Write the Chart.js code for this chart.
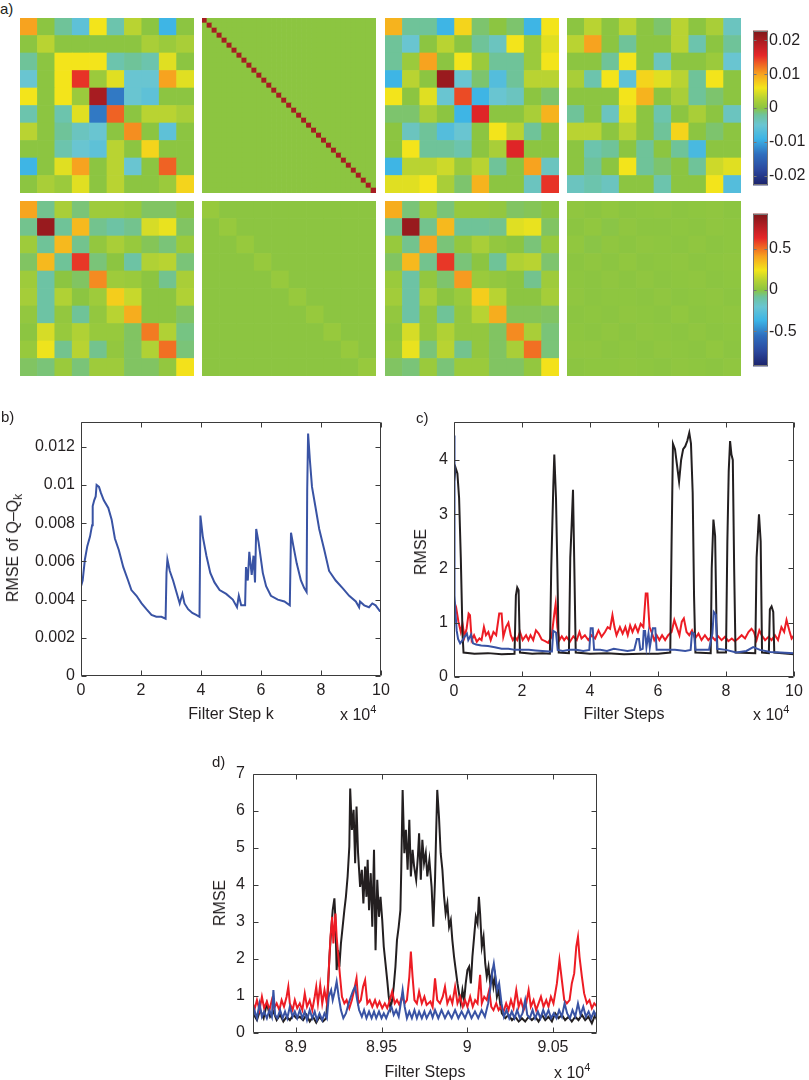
<!DOCTYPE html>
<html>
<head>
<meta charset="utf-8">
<script src="https://cdn.jsdelivr.net/npm/chart.js@4.4.1/dist/chart.umd.min.js"></script>
<style>
body { margin: 0; width: 809px; height: 1080px; position: relative; background: #fff; overflow: hidden;
       font-family: "Liberation Sans", Arial, Helvetica, sans-serif; color: #231f20; }
canvas { position: absolute; }
.t { position: absolute; font-size: 16px; line-height: 1; white-space: nowrap; }
.c { transform: translate(-50%, -50%); }
.r { transform: translate(-50%, -50%) rotate(-90deg); }
.m { transform: translateY(-50%); }
.p { font-size: 15px; }
sup { font-size: 11px; vertical-align: 7px; line-height: 0; }
sub { font-size: 12px; vertical-align: -4px; line-height: 0; }
</style>
</head>
<body>
<canvas id="h1" width="174" height="175" style="left:20px;top:18px"></canvas>
<canvas id="h2" width="174" height="175" style="left:202px;top:18px"></canvas>
<canvas id="h3" width="174" height="175" style="left:385px;top:18px"></canvas>
<canvas id="h4" width="174" height="175" style="left:567px;top:18px"></canvas>
<canvas id="h5" width="174" height="175" style="left:20px;top:201px"></canvas>
<canvas id="h6" width="174" height="175" style="left:202px;top:201px"></canvas>
<canvas id="h7" width="174" height="175" style="left:385px;top:201px"></canvas>
<canvas id="h8" width="174" height="175" style="left:567px;top:201px"></canvas>
<canvas id="cb1" width="56" height="176" style="left:753px;top:20px"></canvas>
<canvas id="cb2" width="56" height="174" style="left:753px;top:203px"></canvas>
<canvas id="plotB" width="400" height="330" style="left:0px;top:400px"></canvas>
<canvas id="plotC" width="409" height="330" style="left:400px;top:400px"></canvas>
<canvas id="plotD" width="420" height="330" style="left:200px;top:750px"></canvas>

<div class="t p" style="left:0px;top:1px">a)</div>
<div class="t p" style="left:1px;top:409px">b)</div>
<div class="t p" style="left:416px;top:410px">c)</div>
<div class="t p" style="left:212px;top:754px">d)</div>

<div class="t r" style="left:13px;top:548px">RMSE of Q&ndash;Q<sub>k</sub></div>
<div class="t c" style="left:231px;top:714px">Filter Step k</div>
<div class="t m" style="left:340px;top:715px">x 10<sup>4</sup></div>

<div class="t r" style="left:421px;top:552px">RMSE</div>
<div class="t c" style="left:624px;top:714px">Filter Steps</div>
<div class="t m" style="left:753px;top:715px">x 10<sup>4</sup></div>

<div class="t r" style="left:220px;top:903px">RMSE</div>
<div class="t c" style="left:425px;top:1072px">Filter Steps</div>
<div class="t m" style="left:554px;top:1073px">x 10<sup>4</sup></div>

<script>
// ---- a) matrices, top row in units of 1e-3 ----
const qEst1 = [
  [10, 0, -2, -6, 6, -3, 3, 0, -9, 0],
  [0, 3, 0, 0, 0, 0, 0, 2, 1, 2],
  [-2, 0, 6, 6, 6, -3, -2, -3, 5, 0],
  [-5, 0, 6, 15, 1, 5, -5, -5, 10, 5],
  [6, 0, 6, 1, 20, -13, -5, -6, 0, 0],
  [-3, 0, -3, 5, -13, 13, 0, 3, 3, 2],
  [3, 0, -2, -4, -5, 0, 11, 0, -6, 0],
  [0, 0, -3, -5, -6, 3, 0, 7, 0, 0],
  [-9, 0, 5, 10, 0, 3, -5, 0, 13, 0],
  [0, 2, 1, 5, 0, 3, 0, 0, 1, 7]
];
const qTrueSize = 35;
const qTrueDiag = 20;
const qEst2 = [
  [9, -2, -2, -9, 7, -1, 0, -1, -9, 6],
  [-2, -5, 0, 3, 0, -2, -4, 6, 1, 5],
  [-2, 1, 10, 0, 6, 1, -2, -2, 1, 6],
  [-9, 3, 0, 21, -5, -1, -7, -2, 3, 3],
  [6, 0, 5, -5, 14, -9, -5, -4, 0, -1],
  [-1, -1, 2, 0, -9, 16, 0, 0, 2, 9],
  [0, -4, -2, -7, -5, 0, 6, 3, -2, 0],
  [0, 6, -2, -2, -3, 0, 2, 16, 0, 0],
  [-9, 3, 3, 4, 1, 3, -2, 0, 10, -4],
  [5, 5, 6, 2, -1, 9, 0, 0, -4, 15]
];
const qDiff = [
  [0, 3, 0, 3, 0, -1, 3, 0, 2, -4],
  [3, 10, 0, -2, 0, 0, 3, -3, 0, -2],
  [0, 0, -2, 6, 0, -4, 0, 0, 1, -5],
  [2, -3, 6, -6, 7, 5, 3, -2, 6, 0],
  [0, 0, 0, 6, 9, 0, 2, -2, -1, 0],
  [-2, 0, -4, 5, 0, -3, 0, 2, 0, -4],
  [3, 3, 0, 3, 0, -2, 7, 0, -1, 0],
  [0, -3, -2, 0, -2, 0, -2, -8, 0, 0],
  [0, -2, 0, 6, -2, -1, 0, -2, 4, 5],
  [-4, -3, -4, 0, 0, -3, 0, 0, 6, -7]
];
// ---- a) bottom row ----
const corrEst1 = [
  [0.4, -0.07, 0.08, -0.05, 0.05, 0.05, 0.03, -0.03, -0.03, 0],
  [-0.07, 0.85, -0.08, 0.35, -0.07, -0.1, -0.07, 0.18, 0.22, -0.03],
  [0.05, -0.08, 0.35, -0.07, 0.02, 0.08, 0.03, -0.02, -0.05, 0.04],
  [-0.03, 0.35, -0.08, 0.6, -0.05, 0, -0.1, 0.1, 0.12, -0.05],
  [0.05, -0.1, 0, -0.03, 0.45, 0.05, 0.04, 0, -0.07, 0.08],
  [0.07, -0.1, 0.1, 0, 0.05, 0.3, 0.15, 0, 0, 0.1],
  [0.02, -0.1, 0.02, -0.08, 0.02, 0.12, 0.38, 0, 0, -0.03],
  [0, 0.18, 0.03, 0.1, 0.03, 0.03, -0.03, 0.48, 0.1, -0.06],
  [0.03, 0.23, -0.07, 0.12, -0.07, 0.02, -0.03, 0.1, 0.5, -0.05],
  [-0.03, -0.05, 0.04, -0.05, 0.05, 0.05, -0.03, -0.03, 0.02, 0.25]
];
const corrTrueSize = 10;
const corrTrueDiag = 0.03;
const corrEst2 = [
  [0.38, -0.05, 0.05, -0.05, 0.03, 0.03, 0.02, -0.03, -0.02, 0],
  [-0.07, 0.85, -0.07, 0.35, -0.08, -0.08, -0.07, 0.2, 0.22, -0.03],
  [0.03, -0.07, 0.4, -0.05, 0.02, 0.08, 0.02, 0, -0.05, 0.03],
  [-0.03, 0.35, -0.07, 0.6, -0.05, 0, -0.08, 0.1, 0.12, -0.04],
  [0.04, -0.1, 0.02, -0.04, 0.42, 0.04, 0.02, 0, -0.07, 0.05],
  [0.06, -0.1, 0.08, 0, 0.04, 0.3, 0.12, 0, 0, 0.07],
  [0.02, -0.1, 0.02, -0.08, 0.02, 0.12, 0.38, -0.02, -0.02, -0.03],
  [0, 0.18, 0.02, 0.1, 0.02, 0.02, -0.03, 0.45, 0.08, -0.05],
  [0.02, 0.22, -0.05, 0.12, -0.07, 0.02, -0.03, 0.08, 0.5, -0.05],
  [-0.03, -0.05, 0.04, -0.05, 0.04, 0.04, -0.03, -0.03, 0.02, 0.25]
];
const corrDiff = [
  [0.01, 0, 0.015, 0, 0.005, 0.01, 0, 0.005, 0.01, 0],
  [0, 0.015, -0.005, 0.01, 0, 0, 0.005, 0, 0.01, 0.005],
  [0.015, -0.005, 0.01, 0, 0.01, 0.005, 0, 0.01, 0, 0.005],
  [0, 0.01, 0, 0.015, 0, 0.005, 0.01, 0, 0.005, 0.01],
  [0.005, 0, 0.01, 0, 0.01, 0, 0.005, 0.01, 0, 0.005],
  [0.01, 0, 0.005, 0.005, 0, 0.01, 0, 0.005, 0.01, 0],
  [0, 0.005, 0, 0.01, 0.005, 0, 0.015, 0, 0.005, 0.01],
  [0.005, 0, 0.01, 0, 0.01, 0.005, 0, 0.01, 0, 0.005],
  [0.01, 0.01, 0, 0.005, 0, 0.01, 0.005, 0, 0.015, 0],
  [0, 0.005, 0.005, 0.01, 0.005, 0, 0.01, 0.005, 0, 0.01]
];
const topLimit = 22.9;      // colour range, 1e-3
const bottomLimit = 0.925;
const topBarTicks = [-20, -10, 0, 10, 20];
const bottomBarTicks = [-0.5, 0, 0.5];

// ---- b) RMSE of Q-Qk, x in units of 1e4 ----
const rmseQ = [[0,0.0047],[0.055,0.0050],[0.13,0.0061],[0.21,0.0068],[0.3,0.0073],[0.37,0.0079],[0.39,0.0089],
  [0.44,0.0092],[0.49,0.0094],[0.52,0.0100],[0.6,0.0099],[0.66,0.0096],[0.76,0.0092],[0.91,0.0088],[1.02,0.0082],
  [1.13,0.0072],[1.26,0.0066],[1.41,0.0057],[1.57,0.0050],[1.68,0.0045],[1.85,0.0042],[2.02,0.0038],[2.18,0.0035],
  [2.35,0.0032],[2.51,0.0031],[2.68,0.0031],[2.82,0.0030],[2.85,0.0054],[2.88,0.0061],[2.96,0.0055],[3.07,0.0050],
  [3.18,0.0044],[3.29,0.0038],[3.38,0.0043],[3.45,0.0038],[3.57,0.0035],[3.71,0.0033],[3.84,0.0032],[3.95,0.0031],
  [3.98,0.0084],[4.06,0.0073],[4.18,0.0063],[4.31,0.0054],[4.45,0.0049],[4.62,0.0045],[4.84,0.0043],[5.06,0.0040],
  [5.2,0.0036],[5.26,0.0042],[5.34,0.0037],[5.47,0.0037],[5.5,0.0057],[5.56,0.0050],[5.61,0.0065],[5.69,0.0053],
  [5.75,0.0063],[5.8,0.0049],[5.84,0.0077],[5.92,0.0070],[6.06,0.0054],[6.17,0.0047],[6.33,0.0042],[6.56,0.0040],
  [6.78,0.0039],[6.96,0.0037],[7.0,0.0075],[7.08,0.0068],[7.19,0.0059],[7.33,0.0050],[7.44,0.0046],[7.52,0.0044],
  [7.54,0.0097],[7.57,0.0127],[7.63,0.0113],[7.7,0.0099],[7.81,0.0089],[7.94,0.0077],[8.11,0.0066],[8.27,0.0055],
  [8.49,0.0050],[8.72,0.0046],[8.94,0.0042],[9.16,0.0039],[9.27,0.0036],[9.3,0.0039],[9.44,0.0037],[9.6,0.0036],
  [9.71,0.0038],[9.82,0.0037],[9.96,0.0034],[10,0.0034]];
const bXTicks = [0, 2, 4, 6, 8, 10];
const bYTicks = [0, 0.002, 0.004, 0.006, 0.008, 0.01, 0.012];
const bYMax = 0.0133;

// ---- c) RMSE over all filter steps, x in units of 1e4 ----
const cBlack = [[0,3.6],[0.05,3.85],[0.1,3.75],[0.15,3.3],[0.2,2.2],[0.25,0.8],[0.28,0.45],[0.6,0.43],[1.0,0.44],
  [1.4,0.42],[1.78,0.43],[1.82,1.5],[1.86,1.65],[1.9,1.6],[1.94,0.45],[2.3,0.43],[2.6,0.44],[2.82,0.43],[2.86,2.0],
  [2.92,3.5],[2.95,4.1],[3.0,3.3],[3.04,2.0],[3.08,0.45],[3.38,0.44],[3.42,2.2],[3.46,2.8],[3.5,3.45],[3.54,2.0],
  [3.58,0.45],[4.0,0.43],[4.5,0.44],[5.0,0.42],[5.5,0.43],[6.0,0.43],[6.36,0.45],[6.4,2.5],[6.44,4.3],[6.5,4.2],
  [6.56,3.9],[6.62,3.6],[6.68,4.0],[6.74,4.2],[6.8,4.25],[6.86,4.35],[6.92,4.5],[6.97,4.3],[7.02,3.4],[7.06,1.5],
  [7.1,0.45],[7.55,0.44],[7.58,2.0],[7.63,2.9],[7.68,2.6],[7.72,1.0],[7.75,0.45],[8.0,0.45],[8.04,2.5],[8.08,3.8],
  [8.12,4.35],[8.16,4.1],[8.2,4.0],[8.24,2.0],[8.28,0.45],[8.86,0.44],[8.9,2.2],[8.97,3.0],[9.02,2.5],[9.06,0.45],
  [9.26,0.44],[9.29,1.25],[9.34,1.3],[9.39,1.2],[9.42,0.45],[10,0.42]];
const cRed = [[0,1.4],[0.06,1.29],[0.13,1.02],[0.2,0.83],[0.25,0.98],[0.31,0.74],[0.37,0.89],[0.43,1.17],[0.47,1.14],
  [0.52,0.68],[0.59,0.77],[0.67,0.65],[0.75,0.71],[0.81,0.68],[0.88,0.92],[0.94,0.77],[1.01,0.83],[1.08,0.68],
  [1.16,0.83],[1.24,0.77],[1.33,1.17],[1.4,1.17],[1.45,0.74],[1.53,0.92],[1.6,1.0],[1.67,0.77],[1.73,0.68],
  [1.79,0.74],[1.86,0.68],[1.94,0.83],[2.02,0.68],[2.12,0.77],[2.19,0.68],[2.25,0.77],[2.33,0.68],[2.41,0.86],
  [2.49,0.8],[2.58,0.69],[2.68,0.66],[2.77,0.63],[2.87,0.74],[2.95,1.17],[2.99,1.35],[3.04,0.92],[3.1,0.68],
  [3.17,0.75],[3.24,0.68],[3.31,0.74],[3.41,0.65],[3.51,0.75],[3.61,0.68],[3.69,0.83],[3.75,0.71],[3.85,0.77],
  [3.95,0.68],[4.05,0.77],[4.15,0.71],[4.25,0.86],[4.34,0.74],[4.44,0.83],[4.52,0.92],[4.59,0.89],[4.66,1.14],
  [4.72,0.92],[4.78,0.77],[4.88,0.92],[4.96,0.8],[5.04,0.92],[5.11,0.77],[5.18,0.95],[5.25,0.83],[5.33,0.95],
  [5.41,0.83],[5.49,0.98],[5.57,0.92],[5.64,1.54],[5.69,1.54],[5.75,0.92],[5.81,0.83],[5.89,0.68],[5.96,0.77],
  [6.04,0.68],[6.12,0.77],[6.21,0.68],[6.3,0.77],[6.4,0.83],[6.48,1.05],[6.55,0.92],[6.63,0.77],[6.7,1.02],
  [6.76,1.08],[6.84,0.83],[6.92,0.77],[7.0,0.86],[7.09,0.71],[7.19,0.8],[7.28,0.68],[7.38,0.77],[7.48,0.68],
  [7.58,0.75],[7.68,0.68],[7.77,0.75],[7.87,0.68],[7.97,0.74],[8.07,0.66],[8.17,0.71],[8.26,0.66],[8.36,0.71],
  [8.46,0.77],[8.56,0.71],[8.66,0.83],[8.75,0.89],[8.82,0.83],[8.9,0.68],[8.98,0.86],[9.05,0.77],[9.15,0.68],
  [9.25,0.74],[9.34,0.68],[9.44,0.77],[9.53,0.68],[9.63,0.92],[9.71,0.83],[9.78,1.05],[9.86,0.86],[9.93,0.71],
  [10,0.77]];
const cBlue = [[0,4.45],[0.01,2.5],[0.02,1.5],[0.04,1.2],[0.08,0.85],[0.12,0.7],[0.18,0.62],[0.25,0.68],[0.32,0.75],
  [0.38,0.8],[0.42,0.68],[0.5,0.78],[0.56,0.62],[0.65,0.6],[0.8,0.58],[1.0,0.57],[1.2,0.55],[1.4,0.52],[1.6,0.52],
  [1.8,0.5],[2.0,0.5],[2.2,0.5],[2.4,0.49],[2.6,0.48],[2.8,0.47],[2.88,0.47],[2.92,0.85],[3.0,0.82],[3.05,0.5],
  [3.2,0.48],[3.4,0.5],[3.6,0.5],[3.8,0.48],[3.98,0.5],[4.02,0.9],[4.08,0.9],[4.12,0.5],[4.3,0.5],[4.5,0.48],
  [4.7,0.52],[4.9,0.5],[5.1,0.48],[5.3,0.5],[5.38,0.7],[5.44,0.7],[5.48,0.5],[5.55,0.52],[5.58,0.85],[5.62,0.85],
  [5.66,0.55],[5.72,0.8],[5.76,0.55],[5.85,0.9],[5.92,0.9],[5.96,0.5],[6.2,0.5],[6.5,0.5],[6.8,0.48],[6.96,0.5],
  [7.0,0.82],[7.06,0.8],[7.1,0.5],[7.3,0.5],[7.5,0.5],[7.6,0.8],[7.64,1.2],[7.7,1.15],[7.74,0.52],[8.0,0.5],
  [8.3,0.45],[8.6,0.48],[8.8,0.55],[9.0,0.5],[9.3,0.46],[9.6,0.45],[10,0.44]];
const cXTicks = [0, 2, 4, 6, 8, 10];
const cYTicks = [0, 1, 2, 3, 4];
const cYMax = 4.7;

// ---- d) zoom on steps 8.875e4 .. 9.076e4 ----
const dBlack = [[8.875,0.53],[8.8773,0.35],[8.8792,0.62],[8.8812,0.4],[8.8831,0.8],[8.885,0.44],[8.8869,0.58],
  [8.8888,0.35],[8.8908,0.49],[8.8927,0.31],[8.8946,0.44],[8.8965,0.35],[8.8985,0.49],[8.9004,0.4],[8.9023,0.44],
  [8.9042,0.35],[8.9062,0.49],[8.9081,0.31],[8.91,0.44],[8.9119,0.28],[8.9138,0.44],[8.9158,0.31],[8.9177,0.4],
  [8.9187,1.16],[8.9196,2.06],[8.9206,2.78],[8.9215,3.32],[8.9225,3.64],[8.9231,3.05],[8.9238,1.7],[8.9246,2.24],
  [8.9254,1.79],[8.9263,2.42],[8.9273,2.87],[8.9283,3.32],[8.9292,3.68],[8.9302,4.23],[8.9312,5.04],[8.9317,6.61],
  [8.9327,5.49],[8.9337,6.03],[8.9346,4.59],[8.9354,6.12],[8.9363,4.86],[8.9375,3.95],[8.9385,4.41],[8.9394,3.5],
  [8.9404,4.5],[8.9412,3.68],[8.9419,4.68],[8.9427,3.32],[8.9437,4.32],[8.9446,2.87],[8.9456,4.95],[8.9465,2.24],
  [8.9475,4.14],[8.9485,3.14],[8.9494,3.68],[8.9504,3.05],[8.9513,2.33],[8.9523,1.88],[8.9533,1.43],[8.9542,0.98],
  [8.9552,0.67],[8.9562,0.89],[8.9571,1.25],[8.9581,1.79],[8.959,2.51],[8.96,2.87],[8.961,3.32],[8.9615,4.41],
  [8.9623,6.57],[8.9633,4.86],[8.9642,5.49],[8.9652,4.41],[8.9662,5.76],[8.9671,4.23],[8.9681,4.95],[8.969,4.5],
  [8.9702,4.14],[8.9712,4.77],[8.9719,5.4],[8.9729,4.14],[8.9738,5.22],[8.9748,4.59],[8.9758,4.86],[8.9767,4.23],
  [8.9779,4.68],[8.9792,3.95],[8.9802,2.87],[8.9812,4.14],[8.9818,5.31],[8.9825,6.57],[8.9835,5.85],[8.9845,4.86],
  [8.9855,4.41],[8.9865,3.68],[8.9874,3.23],[8.9884,3.5],[8.9894,2.87],[8.9904,3.05],[8.9913,2.51],[8.9923,2.06],
  [8.9933,1.7],[8.9943,1.34],[8.9952,1.07],[8.9962,0.8],[8.9972,1.16],[8.9982,0.89],[8.9991,1.34],[9.0001,1.7],
  [9.0011,1.79],[9.0021,1.34],[9.003,2.06],[9.004,2.6],[9.005,3.14],[9.006,2.96],[9.0068,3.68],[9.0075,3.23],
  [9.0085,2.33],[9.0095,2.6],[9.0105,1.88],[9.0114,1.52],[9.0124,1.79],[9.0134,1.34],[9.0144,1.61],[9.0153,1.25],
  [9.0163,1.52],[9.0173,0.98],[9.0183,1.16],[9.0192,0.8],[9.0202,0.53],[9.0222,0.4],[9.0241,0.49],[9.0261,0.35],
  [9.028,0.44],[9.03,0.31],[9.0319,0.4],[9.0338,0.31],[9.0358,0.44],[9.0377,0.35],[9.0397,0.44],[9.0416,0.31],
  [9.0436,0.49],[9.0455,0.35],[9.0474,0.44],[9.0494,0.31],[9.0513,0.53],[9.0533,0.4],[9.0552,0.49],[9.0571,0.35],
  [9.0591,0.44],[9.061,0.31],[9.063,0.44],[9.0649,0.35],[9.0669,0.49],[9.0688,0.35],[9.0707,0.44],[9.0727,0.26],
  [9.0746,0.49],[9.0757,0.35]];
const dRed = [[8.875,0.8],[8.8758,0.62],[8.8773,0.89],[8.8788,0.62],[8.8802,0.98],[8.8815,0.67],[8.8831,0.85],
  [8.8846,0.62],[8.886,0.89],[8.8873,0.67],[8.8888,0.8],[8.8904,0.62],[8.8917,0.89],[8.8931,0.71],[8.8946,0.98],
  [8.8956,1.25],[8.8965,0.8],[8.8981,0.62],[8.8994,0.89],[8.9008,0.67],[8.9023,0.8],[8.9038,0.62],[8.9052,1.07],
  [8.9065,0.71],[8.9081,0.89],[8.9096,0.62],[8.911,0.98],[8.9119,1.25],[8.9129,0.8],[8.9142,1.3],[8.9154,0.8],
  [8.9167,1.16],[8.9181,0.8],[8.9192,1.7],[8.9202,2.6],[8.9212,3.14],[8.9219,2.42],[8.9231,3.23],[8.9238,2.6],
  [8.9248,2.06],[8.9258,1.52],[8.9269,0.98],[8.9283,0.8],[8.9296,0.89],[8.9312,0.67],[8.9327,0.89],[8.934,1.16],
  [8.9354,1.48],[8.9365,0.8],[8.9379,0.89],[8.9392,1.25],[8.9404,1.43],[8.9417,0.8],[8.9431,0.89],[8.9446,0.71],
  [8.9462,0.89],[8.9475,0.71],[8.9488,0.85],[8.9504,0.67],[8.9519,0.8],[8.9533,0.67],[8.9546,0.85],[8.9562,1.12],
  [8.9577,0.8],[8.959,0.89],[8.9604,0.76],[8.9619,0.98],[8.9635,0.8],[8.9648,0.89],[8.9662,1.52],[8.9671,2.2],
  [8.9681,1.52],[8.9692,0.89],[8.9706,0.8],[8.9719,1.12],[8.9735,0.8],[8.975,0.98],[8.9763,0.76],[8.9785,0.85],
  [8.9798,0.7],[8.9812,1.48],[8.9825,0.89],[8.9841,0.8],[8.9857,0.98],[8.987,1.25],[8.9884,0.8],[8.99,0.98],
  [8.9913,0.8],[8.9929,1.25],[8.9943,0.8],[8.9958,0.98],[8.9974,0.71],[8.9987,0.89],[9.0001,0.71],[9.0017,0.98],
  [9.0032,0.71],[9.0046,0.89],[9.006,0.8],[9.0075,1.57],[9.0085,0.8],[9.0099,0.98],[9.0114,0.89],[9.0128,1.16],
  [9.014,0.71],[9.0153,0.62],[9.0169,0.8],[9.0183,0.62],[9.0196,0.71],[9.0212,0.58],[9.0227,0.8],[9.0241,0.62],
  [9.0255,0.89],[9.027,0.67],[9.0286,1.16],[9.03,0.71],[9.0313,0.89],[9.0329,0.62],[9.0344,0.8],[9.0358,1.16],
  [9.0371,0.71],[9.0387,0.89],[9.0402,0.62],[9.0416,0.8],[9.043,0.98],[9.0445,0.71],[9.0461,0.89],[9.0474,0.71],
  [9.0488,0.98],[9.0503,0.8],[9.0523,1.34],[9.0538,1.97],[9.0552,1.43],[9.0566,0.89],[9.0581,0.8],[9.0597,0.89],
  [9.061,1.34],[9.0624,1.61],[9.0636,2.33],[9.0646,2.6],[9.0655,2.06],[9.0669,1.52],[9.0682,1.07],[9.0698,0.8],
  [9.0713,0.89],[9.0727,0.67],[9.0741,0.8],[9.0757,0.71]];
const dBlue = [[8.875,0.44],[8.8758,0.62],[8.8773,0.4],[8.8788,0.8],[8.8802,0.44],[8.8815,0.58],[8.8831,0.4],
  [8.8846,0.62],[8.886,0.44],[8.8869,1.16],[8.8879,0.49],[8.8892,0.4],[8.8908,0.62],[8.8923,0.4],[8.8937,0.58],
  [8.895,0.4],[8.8965,0.71],[8.8981,0.44],[8.8994,0.58],[8.9008,0.4],[8.9023,0.62],[8.9038,0.4],[8.9052,0.58],
  [8.9065,0.35],[8.9081,0.62],[8.9096,0.4],[8.911,0.58],[8.9123,0.35],[8.9138,0.53],[8.9154,0.35],[8.9167,0.53],
  [8.9181,0.4],[8.9192,0.98],[8.9206,1.16],[8.9215,0.89],[8.9227,1.12],[8.9238,1.39],[8.925,0.98],[8.9263,0.62],
  [8.9277,0.4],[8.9292,0.53],[8.9308,0.8],[8.9321,0.98],[8.9335,1.16],[8.9346,1.25],[8.9358,0.89],[8.9369,0.62],
  [8.9385,0.44],[8.9398,0.62],[8.9412,0.4],[8.9427,0.58],[8.9442,0.4],[8.9456,0.58],[8.9469,0.4],[8.9485,0.58],
  [8.95,0.4],[8.9513,0.53],[8.9527,0.4],[8.9542,0.58],[8.9558,0.71],[8.9571,0.49],[8.9585,0.62],[8.96,0.44],
  [8.9615,0.89],[8.9623,1.16],[8.9635,0.71],[8.9648,0.4],[8.9662,0.58],[8.9677,0.4],[8.9692,0.62],[8.9706,0.4],
  [8.9719,0.58],[8.9735,0.4],[8.975,0.58],[8.9763,0.4],[8.9785,0.6],[8.9798,0.42],[8.9812,0.62],[8.9831,0.4],
  [8.985,0.62],[8.987,0.4],[8.9889,0.58],[8.9909,0.4],[8.9929,0.62],[8.9948,0.4],[8.9967,0.58],[8.9987,0.4],
  [9.0006,0.62],[9.0025,0.4],[9.0045,0.58],[9.0064,0.4],[9.0084,0.62],[9.0103,0.44],[9.0122,0.8],[9.0136,1.25],
  [9.0148,1.7],[9.0155,1.88],[9.0165,1.52],[9.0175,1.16],[9.0186,1.34],[9.02,0.8],[9.0214,0.44],[9.0229,0.62],
  [9.0245,0.4],[9.026,0.58],[9.0276,0.4],[9.0291,0.62],[9.0307,0.4],[9.0322,0.53],[9.0338,0.89],[9.035,0.49],
  [9.0365,0.4],[9.0381,0.62],[9.0396,0.4],[9.0412,0.58],[9.0427,0.4],[9.0443,0.62],[9.0458,0.44],[9.0474,0.62],
  [9.0489,0.4],[9.0505,0.53],[9.0521,0.4],[9.0536,0.62],[9.0552,0.44],[9.0568,0.8],[9.0583,0.53],[9.0599,0.4],
  [9.0614,0.62],[9.063,0.44],[9.0646,0.8],[9.0661,0.49],[9.0677,0.71],[9.0692,0.44],[9.0708,0.58],[9.0723,0.4],
  [9.0739,0.58],[9.0754,0.44]];
const dXTicks = [8.9, 8.95, 9, 9.05];
const dYTicks = [0, 1, 2, 3, 4, 5, 6, 7];
const dXMin = 8.875, dXMax = 9.0757, dYMax = 7;

// ---- styling ----
const ink = '#231f20';
const lineColors = { black: '#231f20', red: '#ed1c24', blue: '#3953a4' };
const jetStops = [
  [-1.0, [27, 33, 105]], [-0.8, [43, 72, 158]], [-0.6, [47, 110, 190]], [-0.4, [60, 180, 230]],
  [-0.22, [105, 197, 210]], [-0.09, [110, 195, 156]], [0, [140, 197, 65]], [0.12, [180, 210, 52]],
  [0.26, [243, 229, 27]], [0.44, [247, 162, 31]], [0.58, [238, 92, 36]], [0.68, [229, 38, 40]],
  [0.82, [185, 30, 36]], [1.0, [125, 22, 25]]
];
Chart.defaults.font.family = '"Liberation Sans", Arial, Helvetica, sans-serif';
Chart.defaults.font.size = 16;
Chart.defaults.color = ink;

function cmap(t) {
  t = Math.max(-1, Math.min(1, t));
  for (let i = 1; i < jetStops.length; i++) {
    if (t <= jetStops[i][0]) {
      const [t0, c0] = jetStops[i - 1], [t1, c1] = jetStops[i];
      const f = (t - t0) / (t1 - t0);
      return 'rgb(' + c0.map((c, k) => Math.round(c + (c1[k] - c) * f)).join(',') + ')';
    }
  }
  return 'rgb(' + jetStops[jetStops.length - 1][1].join(',') + ')';
}

function diagMatrix(size, value) {
  return Array.from({ length: size }, (_, r) => Array.from({ length: size }, (_, c) => (r === c ? value : 0)));
}

const noUi = { legend: { display: false }, tooltip: { enabled: false } };
const noGrid = { display: false, drawTicks: false, tickLength: 0 };

// each row is one stacked dataset, each column one category
function heatmap(id, matrix, limit) {
  const n = matrix.length;
  const datasets = [];
  for (let r = n - 1; r >= 0; r--) {
    datasets.push({
      data: matrix[r].map(() => 1),
      backgroundColor: matrix[r].map(v => cmap(v / limit)),
      borderWidth: 0,
      barPercentage: 1,
      categoryPercentage: 1
    });
  }
  new Chart(document.getElementById(id), {
    type: 'bar',
    data: { labels: matrix[0].map((_, i) => i), datasets },
    options: {
      responsive: false, animation: false, events: [],
      plugins: noUi,
      layout: { padding: 0 },
      scales: {
        x: { display: false, stacked: true },
        y: { display: false, stacked: true, min: 0, max: n }
      }
    }
  });
}

// MATLAB style frame with inward ticks on all sides
const boxAxes = {
  id: 'boxAxes',
  afterDraw(chart, args, opts) {
    const { ctx, chartArea: a } = chart;
    const len = opts.len || 5;
    const l = Math.round(a.left) + 0.5, r = Math.round(a.right) - 0.5;
    const t = Math.round(a.top) + 0.5, b = Math.round(a.bottom) - 0.5;
    ctx.save();
    ctx.strokeStyle = opts.color || '#3b3b3b';
    ctx.lineWidth = 1;
    ctx.beginPath();
    ctx.rect(l, t, r - l, b - t);
    Object.values(chart.scales).forEach(s => {
      if (!s.options.display) return;
      s.ticks.forEach(tk => {
        const p = Math.round(s.getPixelForValue(tk.value)) + 0.5;
        if (s.isHorizontal()) {
          ctx.moveTo(p, b); ctx.lineTo(p, b - len);
          ctx.moveTo(p, t); ctx.lineTo(p, t + len);
        } else {
          ctx.moveTo(l, p); ctx.lineTo(l + len, p);
          ctx.moveTo(r, p); ctx.lineTo(r - len, p);
        }
      });
    });
    ctx.stroke();
    ctx.restore();
  }
};

const colorbarFill = {
  id: 'colorbarFill',
  beforeDatasetsDraw(chart) {
    const { ctx, chartArea: a } = chart;
    const g = ctx.createLinearGradient(0, a.bottom, 0, a.top);
    jetStops.forEach(([t, c]) => g.addColorStop((t + 1) / 2, 'rgb(' + c.join(',') + ')'));
    ctx.fillStyle = g;
    ctx.fillRect(a.left, a.top, a.width, a.height);
  }
};

function colorbar(id, limit, tickValues, fmt) {
  new Chart(document.getElementById(id), {
    type: 'scatter',
    data: { datasets: [] },
    plugins: [colorbarFill, boxAxes],
    options: {
      responsive: false, animation: false, events: [],
      layout: { padding: 0 },
      plugins: Object.assign({ boxAxes: { len: 3, color: '#777' } }, noUi),
      scales: {
        x: { display: false, min: 0, max: 1 },
        y: {
          position: 'right', min: -limit, max: limit,
          grid: noGrid, border: { display: false },
          afterBuildTicks: s => { s.ticks = tickValues.map(v => ({ value: v })); },
          afterFit: s => { s.width = 41; },
          ticks: { padding: 1, autoSkip: false, callback: fmt }
        }
      }
    }
  });
}

function numLabel(v) { return String(+Number(v).toFixed(4)); }

function linePlot(id, series, cfg) {
  new Chart(document.getElementById(id), {
    type: 'line',
    data: {
      datasets: series.map(s => ({
        data: s.points.map(([x, y]) => ({ x, y })),
        borderColor: s.color, borderWidth: 2, pointRadius: 0, tension: 0, order: s.order, fill: false
      }))
    },
    plugins: [boxAxes],
    options: {
      responsive: false, animation: false, events: [],
      parsing: false,
      layout: { padding: { top: cfg.padTop, right: cfg.padRight, left: 0, bottom: 0 } },
      plugins: Object.assign({ boxAxes: { len: 5 } }, noUi),
      scales: {
        x: {
          type: 'linear', min: cfg.xMin, max: cfg.xMax,
          grid: noGrid, border: { display: false },
          afterBuildTicks: s => { s.ticks = cfg.xTicks.map(v => ({ value: v })); },
          afterFit: s => { s.height = cfg.xHeight; },
          ticks: { padding: 5, autoSkip: false, maxRotation: 0, callback: numLabel }
        },
        y: {
          type: 'linear', min: 0, max: cfg.yMax,
          grid: noGrid, border: { display: false },
          afterBuildTicks: s => { s.ticks = cfg.yTicks.map(v => ({ value: v })); },
          afterFit: s => { s.width = cfg.yWidth; },
          ticks: { padding: cfg.yPad, autoSkip: false, callback: numLabel }
        }
      }
    }
  });
}

// ---- draw ----
heatmap('h1', qEst1, topLimit);
heatmap('h2', diagMatrix(qTrueSize, qTrueDiag), topLimit);
heatmap('h3', qEst2, topLimit);
heatmap('h4', qDiff, topLimit);
heatmap('h5', corrEst1, bottomLimit);
heatmap('h6', diagMatrix(corrTrueSize, corrTrueDiag), bottomLimit);
heatmap('h7', corrEst2, bottomLimit);
heatmap('h8', corrDiff, bottomLimit);
colorbar('cb1', topLimit, topBarTicks, v => (v === 0 ? '0' : String(v / 1000)));
colorbar('cb2', bottomLimit, bottomBarTicks, v => String(v));

linePlot('plotB', [{ points: rmseQ, color: lineColors.blue, order: 1 }], {
  xMin: 0, xMax: 10, yMax: bYMax, xTicks: bXTicks, yTicks: bYTicks,
  padTop: 22, padRight: 19, yWidth: 81, xHeight: 54, yPad: 6
});
linePlot('plotC', [
  { points: cBlue, color: lineColors.blue, order: 1 },
  { points: cBlack, color: lineColors.black, order: 2 },
  { points: cRed, color: lineColors.red, order: 3 }
], {
  xMin: 0, xMax: 10, yMax: cYMax, xTicks: cXTicks, yTicks: cYTicks,
  padTop: 22, padRight: 15, yWidth: 54, xHeight: 53, yPad: 6
});
linePlot('plotD', [
  { points: dBlue, color: lineColors.blue, order: 1 },
  { points: dRed, color: lineColors.red, order: 2 },
  { points: dBlack, color: lineColors.black, order: 3 }
], {
  xMin: dXMin, xMax: dXMax, yMax: dYMax, xTicks: dXTicks, yTicks: dYTicks,
  padTop: 24, padRight: 23, yWidth: 53, xHeight: 47, yPad: 8
});
</script>
</body>
</html>
